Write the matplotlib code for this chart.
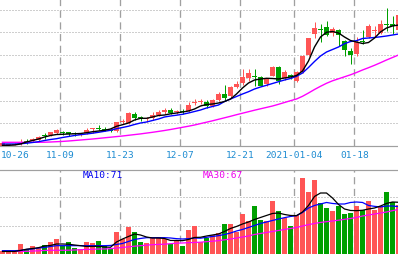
import matplotlib
matplotlib.use("Agg")
import matplotlib.pyplot as plt
import numpy as np

tick_idx = [0, 10, 20, 30, 40, 49, 59]
tick_labels = ["10-26", "11-09", "11-23", "12-07", "12-21", "2021-01-04", "01-18"]

open_ = [20.22, 20.44, 20.66, 21.63, 22.20, 22.20, 22.77, 24.71, 24.84, 25.85,
         26.29, 26.03, 25.59, 24.84, 25.72, 27.48, 28.05, 27.61, 27.17, 26.73,
         30.69, 30.12, 34.21, 32.63, 32.01, 32.19, 33.64, 34.83, 35.71, 34.83,
         35.40, 35.40, 39.05, 39.49, 39.49, 37.73, 40.11, 42.88, 42.13, 45.96,
         47.72, 49.79, 50.80, 50.36, 47.41, 50.93, 54.76, 49.79, 51.24, 48.73,
         52.43, 60.04, 69.41, 71.61, 72.36, 69.72, 70.91, 66.07, 61.93, 60.48,
         66.07, 67.83, 70.91, 69.72, 73.81, 73.81, 71.17]
high = [21.54, 21.10, 21.32, 23.30, 23.08, 23.52, 24.27, 25.72, 26.29, 27.48,
        26.47, 26.29, 26.03, 25.72, 27.79, 27.92, 29.24, 28.36, 27.48, 30.69,
        31.88, 34.83, 35.09, 33.33, 32.76, 35.09, 35.71, 36.59, 36.59, 36.03,
        36.28, 39.23, 40.68, 40.68, 40.11, 40.68, 43.63, 46.84, 46.53, 48.60,
        53.88, 53.88, 53.88, 50.67, 49.79, 55.07, 55.07, 53.57, 51.90, 53.00,
        60.04, 67.74, 74.69, 73.55, 75.00, 72.36, 71.48, 66.51, 62.99, 67.83,
        71.04, 73.68, 72.93, 75.57, 80.72, 77.07, 77.64]
low = [20.00, 20.22, 20.44, 20.66, 20.88, 21.63, 21.76, 23.08, 24.53, 25.28,
       24.97, 24.53, 24.53, 24.40, 25.15, 25.94, 27.04, 26.60, 26.29, 26.03,
       29.68, 29.55, 31.57, 31.00, 30.69, 31.57, 33.07, 34.21, 33.95, 34.21,
       34.21, 34.83, 38.04, 38.48, 36.72, 37.16, 39.80, 40.02, 40.99, 45.39,
       46.84, 48.60, 46.53, 46.27, 46.27, 50.67, 47.15, 49.17, 49.70, 48.16,
       52.12, 59.82, 67.39, 65.89, 68.53, 68.40, 64.13, 59.73, 56.21, 59.73,
       64.88, 67.52, 68.27, 69.15, 70.73, 69.28, 71.04]
close = [21.32, 20.88, 20.88, 21.89, 21.94, 23.08, 23.96, 24.40, 26.03, 26.91,
         26.03, 25.41, 25.28, 25.06, 27.17, 27.79, 27.79, 27.35, 26.60, 30.43,
         31.00, 34.39, 32.19, 32.32, 32.32, 33.64, 35.09, 36.03, 34.52, 35.40,
         35.09, 38.04, 39.36, 39.80, 37.73, 40.37, 43.01, 40.99, 45.96, 47.41,
         50.36, 52.12, 50.49, 46.53, 49.48, 54.76, 48.60, 52.43, 50.36, 52.69,
         59.73, 67.52, 71.79, 71.35, 68.97, 71.48, 68.97, 62.37, 60.17, 65.89,
         65.76, 72.93, 71.17, 73.68, 73.55, 72.67, 77.64]

ma5 = [20.31, 20.31, 20.44, 20.88, 21.76, 22.42, 23.08, 23.96, 24.62, 25.06,
       25.15, 25.28, 25.37, 25.50, 25.85, 26.29, 26.60, 26.91, 27.48, 28.67,
       29.37, 30.12, 31.44, 32.19, 32.19, 32.76, 33.42, 33.64, 34.17, 34.52,
       34.96, 35.40, 36.28, 37.60, 38.26, 38.48, 38.92, 39.58, 40.68, 42.88,
       45.52, 47.72, 49.04, 49.48, 49.79, 49.70, 49.48, 49.92, 50.36, 51.02,
       53.00, 57.40, 63.56, 67.96, 70.03, 70.38, 69.72, 67.96, 66.42, 65.76,
       65.10, 65.54, 67.50, 70.16, 71.92, 72.80, 73.24]
ma10 = [20.88, 20.88, 20.88, 21.01, 21.23, 21.54, 21.89, 22.42, 22.86, 23.21,
        23.74, 24.18, 24.62, 24.97, 25.28, 25.63, 26.03, 26.47, 26.91, 27.61,
        28.14, 28.71, 29.46, 30.12, 30.56, 31.22, 31.88, 32.76, 33.20, 33.55,
        33.95, 34.52, 35.18, 35.84, 36.72, 37.38, 38.04, 39.58, 40.68, 41.78,
        42.88, 43.89, 45.08, 45.96, 46.71, 47.50, 48.29, 49.04, 49.70, 50.67,
        52.12, 54.54, 57.18, 59.60, 61.36, 62.46, 63.56, 65.01, 65.98, 66.33,
        67.30, 67.52, 67.74, 68.05, 68.40, 68.84, 69.28]
ma30 = [21.63, 21.63, 21.63, 21.63, 21.63, 21.63, 21.63, 21.67, 21.76, 21.89,
        22.02, 22.20, 22.42, 22.64, 22.86, 23.08, 23.34, 23.61, 23.87, 24.14,
        24.40, 24.71, 25.02, 25.32, 25.68, 26.03, 26.42, 26.82, 27.26, 27.74,
        28.23, 28.71, 29.24, 29.86, 30.47, 31.09, 31.75, 32.41, 33.07, 33.77,
        34.43, 35.09, 35.75, 36.37, 36.98, 37.60, 38.35, 39.14, 39.93, 40.68,
        41.87, 43.32, 44.86, 46.27, 47.59, 48.69, 49.57, 50.45, 51.33, 52.34,
        53.44, 54.45, 55.51, 56.65, 57.84, 58.94, 60.04]

volume = [4.0, 4.0, 4.0, 15.0, 7.5, 11.5, 9.0, 13.5, 17.5, 22.5,
          11.5, 17.5, 9.0, 7.5, 17.5, 16.0, 19.5, 12.5, 8.0, 33.0,
          22.5, 40.5, 33.0, 17.5, 16.0, 24.5, 25.5, 23.0, 14.5, 20.5,
          12.0, 35.5, 42.0, 18.5, 23.5, 29.0, 31.5, 45.0, 45.0, 33.0,
          60.0, 50.0, 72.0, 51.0, 49.5, 80.0, 65.0, 54.0, 41.5, 58.0,
          114.0, 93.0, 111.5, 76.5, 69.5, 65.0, 72.5, 60.0, 62.0, 72.0,
          66.0, 79.5, 66.5, 72.5, 93.0, 77.5, 73.5]
vol_ma5 = [3.8, 3.8, 3.8, 5.3, 7.2, 8.3, 9.5, 12.0, 12.8, 15.0,
           15.0, 14.7, 13.5, 12.5, 11.3, 11.3, 11.6, 10.5, 10.1, 18.0,
           22.5, 26.3, 30.0, 28.5, 25.5, 24.0, 24.0, 23.3, 20.3, 20.3,
           20.0, 21.8, 24.8, 25.1, 27.0, 28.5, 30.0, 33.8, 38.3, 41.3,
           45.0, 48.0, 51.8, 54.8, 57.8, 60.8, 61.5, 59.3, 57.8, 57.5,
           63.0, 72.8, 86.3, 91.5, 91.5, 84.0, 74.3, 67.5, 65.3, 65.0,
           65.6, 67.5, 69.0, 72.0, 75.8, 78.0, 77.6]
vol_ma10 = [5.0, 5.0, 5.0, 5.3, 6.8, 7.5, 9.0, 9.8, 11.3, 12.5,
            12.5, 12.5, 12.5, 12.5, 12.5, 12.5, 12.5, 12.5, 12.8, 14.3,
            15.8, 18.8, 21.8, 23.3, 24.5, 24.5, 24.5, 24.5, 24.0, 23.0,
            22.5, 23.0, 24.0, 23.7, 25.0, 26.3, 27.5, 29.3, 31.5, 34.5,
            36.8, 39.8, 42.8, 45.8, 48.0, 50.3, 52.5, 54.5, 56.3, 57.5,
            62.3, 69.0, 72.8, 75.0, 77.3, 75.8, 75.0, 75.0, 77.3, 78.0,
            77.3, 72.8, 71.5, 70.5, 72.0, 72.0, 71.0]
vol_ma30 = [4.0, 4.0, 4.0, 4.0, 4.0, 4.4, 4.8, 5.3, 5.6, 5.6,
            5.6, 5.7, 6.0, 6.5, 6.8, 7.0, 7.5, 7.5, 8.0, 9.0,
            9.8, 10.8, 11.7, 12.5, 13.2, 14.0, 14.4, 14.7, 15.5, 16.2,
            16.5, 17.0, 17.3, 17.7, 18.5, 19.2, 20.0, 21.3, 22.5, 24.0,
            25.5, 27.0, 29.3, 30.8, 32.3, 33.8, 35.3, 36.8, 38.3, 39.8,
            42.0, 44.0, 45.8, 47.3, 48.5, 49.5, 50.7, 52.0, 53.3, 54.8,
            57.0, 58.5, 60.0, 61.5, 63.0, 65.0, 67.0]

# ---------------- styling ----------------
RED = "#ff5555"
GREEN = "#00a000"
GRID = "#a0a0a0"
DATE_COLOR = "#1e8cd2"
W, H = 398, 255
PX = 72.0 / 100  # one pixel in points

o = np.array(open_); hi = np.array(high); lo = np.array(low); c = np.array(close)
n = len(o)
x = np.arange(n)
up = c >= o
cols = np.where(up, RED, GREEN)

fig = plt.figure(figsize=(W / 100, H / 100), dpi=100)
fig.patch.set_facecolor("white")

price_top, price_bot = 0, 147
vol_top, vol_bot = 171, 255
ax = fig.add_axes([0, 1 - price_bot / H, 1, (price_bot - price_top) / H])
axv = fig.add_axes([0, 1 - vol_bot / H, 1, (vol_bot - vol_top) / H])

xmin = -2.5 / 6
xmax = xmin + W / 6
bar_w = 5 / 6

# ---- price panel ----
ax.set_xlim(xmin, xmax)
ax.set_ylim(20, 84.68)
for gy in [30, 40, 50, 60, 70, 80]:
    ax.axhline(gy, color=GRID, lw=PX, ls=(0, (1, 2)), zorder=0)
for ti in tick_idx[1:]:
    ax.axvline(ti - 0.35, color=GRID, lw=PX * 1.3, ls=(0, (5.5, 3.5)), zorder=0)

ax.vlines(x, lo, hi, colors=cols, lw=PX, zorder=2)
min_h = 0.44
body_h = np.maximum(np.abs(c - o), min_h)
mid = (c + o) / 2
ax.bar(x, body_h, bottom=mid - body_h / 2, width=bar_w, color=cols,
       linewidth=0, zorder=3)

ax.plot(x, ma30, color="#ff00ff", lw=1.0, zorder=4)
ax.plot(x, ma10, color="#0000ff", lw=1.0, zorder=4)
ax.plot(x, ma5, color="#000000", lw=1.0, zorder=5)

for side in ["top", "left", "right"]:
    ax.spines[side].set_visible(False)
ax.spines["bottom"].set_color(GRID)
ax.spines["bottom"].set_linewidth(PX * 1.2)
ax.set_xticks([]); ax.set_yticks([])

# ---- volume panel ----
axv.set_xlim(xmin, xmax)
axv.set_ylim(0, 126)
for gy in [42.75, 85.5]:
    axv.axhline(gy, color=GRID, lw=PX, ls=(0, (1, 2)), zorder=0)
for ti in tick_idx[1:]:
    axv.axvline(ti - 0.35, color=GRID, lw=PX * 1.3, ls=(0, (5.5, 3.5)), zorder=0)
axv.bar(x, volume, width=bar_w, color=cols, linewidth=0, zorder=2)
axv.plot(x, vol_ma30, color="#ff00ff", lw=0.9, zorder=3)
axv.plot(x, vol_ma10, color="#0000ff", lw=0.9, zorder=3)
axv.plot(x, vol_ma5, color="#000000", lw=0.9, zorder=4)
for side in ["bottom", "left", "right"]:
    axv.spines[side].set_visible(False)
axv.spines["top"].set_color(GRID)
axv.spines["top"].set_linewidth(PX * 1.2)
axv.set_xticks([]); axv.set_yticks([])

axv.text(103 / W, 1 - (176 - vol_top) / (vol_bot - vol_top), "MA10:71",
         transform=axv.transAxes, ha="center", va="center",
         family="DejaVu Sans Mono", fontsize=6.8, color="#0000ee")
axv.text(223 / W, 1 - (176 - vol_top) / (vol_bot - vol_top), "MA30:67",
         transform=axv.transAxes, ha="center", va="center",
         family="DejaVu Sans Mono", fontsize=6.8, color="#ee00ee")

# ---- date labels ----
for ti, lab in zip(tick_idx, tick_labels):
    px = (ti - xmin) * 6
    if ti == 0:
        fig.text(0.5 / W, 1 - 156 / H, lab, ha="left", va="center",
                 family="DejaVu Sans Mono", fontsize=6.8, color=DATE_COLOR)
    else:
        fig.text((px - 2) / W, 1 - 156 / H, lab, ha="center", va="center",
                 family="DejaVu Sans Mono", fontsize=6.8, color=DATE_COLOR)

fig.savefig("out.png", dpi=100, facecolor="white")
